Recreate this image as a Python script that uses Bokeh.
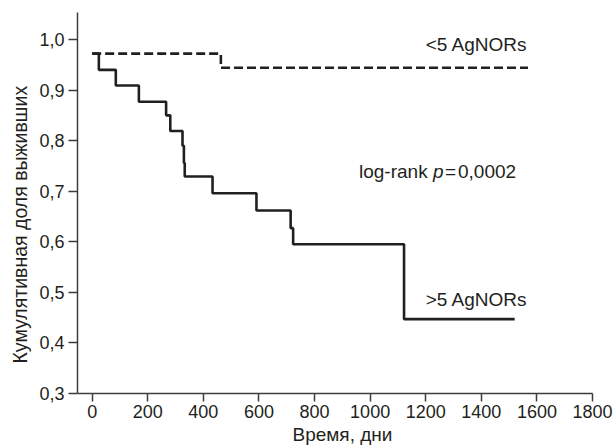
from bokeh.plotting import figure
from bokeh.models import FixedTicker, Range1d, Title
from bokeh.core.properties import value
from bokeh.embed import file_html
from bokeh.resources import INLINE

# Data
high_days = [0, 24, 85, 168, 266, 281, 325, 330, 333, 433, 591, 714, 723, 1122, 1520]
high_surv = [0.972, 0.940, 0.909, 0.877, 0.850, 0.819, 0.790, 0.756, 0.729, 0.696,
             0.662, 0.627, 0.595, 0.447, 0.447]
low_days = [0, 463, 1568]
low_surv = [0.972, 0.944, 0.944]

x_ticks = [0, 200, 400, 600, 800, 1000, 1200, 1400, 1600, 1800]
y_ticks = [0.3, 0.4, 0.5, 0.6, 0.7, 0.8, 0.9, 1.0]
y_tick_labels = ["0,3", "0,4", "0,5", "0,6", "0,7", "0,8", "0,9", "1,0"]

label_low = "<5 AgNORs"
label_high = ">5 AgNORs"
x_title = "Время, дни"
y_title = "Кумулятивная доля выживших"

FONT = "Liberation Sans"
INK = "#231f20"
AX = "#3c3c3c"

p = figure(width=616, height=448, output_backend="svg", toolbar_location=None,
           x_range=Range1d(-52.8, 1800), y_range=Range1d(0.3, 1.0534),
           min_border_left=76, min_border_right=24, min_border_top=12, min_border_bottom=55)
p.outline_line_color = None
p.grid.visible = False
p.background_fill_color = "white"
p.border_fill_color = "white"

p.step(low_days, low_surv, mode="after", line_color=INK, line_width=2.6, line_dash="9 4")
p.step(high_days, high_surv, mode="after", line_color=INK, line_width=2.6)

for ax in (p.xaxis[0], p.yaxis[0]):
    ax.axis_line_color = AX
    ax.axis_line_width = 1.5
    ax.major_tick_line_color = AX
    ax.major_tick_line_width = 1.5
    ax.major_tick_in = 0
    ax.minor_tick_line_color = None
    ax.major_label_text_font = FONT
    ax.major_label_text_font_size = "18px"
    ax.major_label_text_color = INK

p.xaxis.major_tick_out = 8
p.yaxis.major_tick_out = 9
p.xaxis.major_label_standoff = 3
p.yaxis.major_label_standoff = 4
p.xaxis.ticker = FixedTicker(ticks=x_ticks)
p.yaxis.ticker = FixedTicker(ticks=y_ticks)
p.yaxis.major_label_overrides = {t: l for t, l in zip(y_ticks, y_tick_labels)}

# axis titles as side-panel titles (offset along the axis)
p.add_layout(Title(text=x_title, text_font=FONT, text_font_size="19px",
                   text_font_style="normal", text_color=INK, align="left",
                   offset=215, standoff=2), "below")
p.add_layout(Title(text=y_title, text_font=FONT, text_font_size="19.5px",
                   text_font_style="normal", text_color=INK, align="left",
                   offset=30, standoff=12), "left")

txt = dict(text_font=value(FONT), text_font_size="19px", text_color=INK,
           text_baseline="middle", text_align="left")
p.text(x=[1200], y=[0.991], text=[label_low], **txt)
p.text(x=[1200], y=[0.486], text=[label_high], **txt)
p.text(x=[960], y=[0.739], text=["log-rank"], **txt)
p.text(x=[960], y=[0.739], text=["p"], x_offset=74, text_font_style="italic", **txt)
p.text(x=[960], y=[0.739], text=["="], x_offset=86, **txt)
p.text(x=[960], y=[0.739], text=["0,0002"], x_offset=99, **txt)

open("out.html", "w").write(file_html(p, INLINE))
